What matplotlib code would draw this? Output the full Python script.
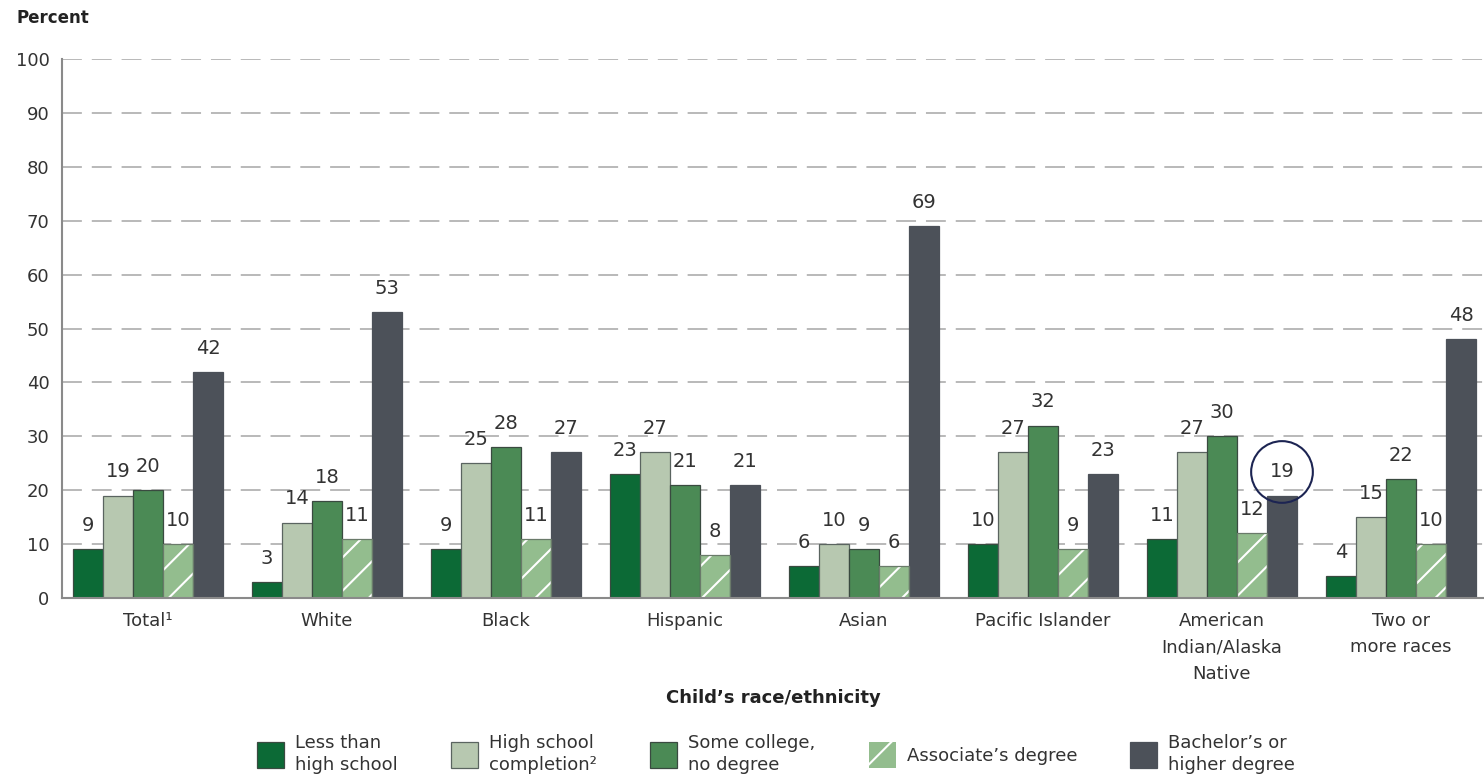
import matplotlib
matplotlib.use("Agg")
import matplotlib.pyplot as plt
import numpy as np
from matplotlib.patches import Patch

plt.rcParams['font.family'] = ['DejaVu Sans']
plt.rcParams['hatch.linewidth'] = 1.5

categories = ["Total\u00b9", "White", "Black", "Hispanic", "Asian",
              "Pacific Islander", "American\nIndian/Alaska\nNative", "Two or\nmore races"]
series_names = ["Less than\nhigh school", "High school\ncompletion\u00b2",
                "Some college,\nno degree", "Associate\u2019s degree",
                "Bachelor\u2019s or\nhigher degree"]
less_than_hs = [9, 3, 9, 23, 6, 10, 11, 4]
hs_completion = [19, 14, 25, 27, 10, 27, 27, 15]
some_college = [20, 18, 28, 21, 9, 32, 30, 22]
associates = [10, 11, 11, 8, 6, 9, 12, 10]
bachelors = [42, 53, 27, 21, 69, 23, 19, 48]
yticks = [0, 10, 20, 30, 40, 50, 60, 70, 80, 90, 100]
highlight = (6, 4)  # (category index, series index) circled label

series = [less_than_hs, hs_completion, some_college, associates, bachelors]
colors = ["#0c6a36", "#b7c8b0", "#4b8a55", "#93bd8e", "#4c5159"]
edges = ["#3a4a40", "#5a6460", "#3a4a40", "#6a7a6a", "#4c5159"]
hatches = [None, None, None, "/", None]

fig = plt.figure(figsize=(14.84, 7.80), dpi=100)
ax = fig.add_axes([62/1484, 1-598/780, 1-62/1484, (598-59)/780])

x = np.arange(len(categories))
w = 30/179
text_col = "#333333"

for i, (vals, c, e, h) in enumerate(zip(series, colors, edges, hatches)):
    pos = x + (i - 2) * w
    if h:
        ax.bar(pos, vals, width=w, color=c, edgecolor="white", hatch=h, linewidth=0, zorder=3)
        ax.bar(pos, vals, width=w, fill=False, edgecolor=e, linewidth=0.9, zorder=4)
    else:
        ax.bar(pos, vals, width=w, color=c, edgecolor=e, linewidth=0.9, zorder=3)
    for j, (p, v) in enumerate(zip(pos, vals)):
        kw = {}
        if (j, i) == highlight:
            kw['bbox'] = dict(boxstyle="circle,pad=0.95", fc="none", ec="#1c2452", lw=1.5)
        ax.annotate(str(v), (p, v), xytext=(0, 17), textcoords="offset points",
                    ha="center", va="center", fontsize=14, color=text_col, zorder=5, **kw)

ax.set_xlim(-86/179, (1484-148)/179)
ax.set_ylim(0, 100)
ax.set_yticks(yticks)
ax.set_yticklabels([str(t) for t in yticks], fontsize=13, color=text_col)
ax.set_xticks(x)
ax.set_xticklabels(categories, fontsize=13, color=text_col, linespacing=1.6)
ax.tick_params(axis='both', length=0)
ax.tick_params(axis='y', pad=9)
ax.tick_params(axis='x', pad=10)

for t in yticks[1:]:
    ax.axhline(t, color="#b3b3b3", lw=1.3, dashes=(11, 5.5), zorder=1)

for s in ["top", "right"]:
    ax.spines[s].set_visible(False)
for s in ["left", "bottom"]:
    ax.spines[s].set_color("#8a8a8a")
    ax.spines[s].set_linewidth(1.5)
ax.spines["bottom"].set_zorder(6)

fig.text(17/1484, 1-18/780, "Percent", fontsize=12, fontweight="bold", color="#222222",
         ha="left", va="center")
fig.text((62+1484)/2/1484, 1-698/780, "Child\u2019s race/ethnicity", fontsize=13,
         fontweight="bold", color="#222222", ha="center", va="center")

handles = []
for c, e, h in zip(colors, edges, hatches):
    if h:
        handles.append(Patch(facecolor=c, edgecolor="white", hatch=h, linewidth=0))
    else:
        handles.append(Patch(facecolor=c, edgecolor=e, linewidth=0.9))
leg = fig.legend(handles, series_names, loc="lower center", bbox_to_anchor=(0.523, -0.013),
                 ncol=5, frameon=False, fontsize=13, handlelength=1.5, handleheight=1.9,
                 handletextpad=0.6, columnspacing=2.95)
for t in leg.get_texts():
    t.set_color(text_col)
    t.set_linespacing(1.3)

fig.savefig("out.png", dpi=100)
